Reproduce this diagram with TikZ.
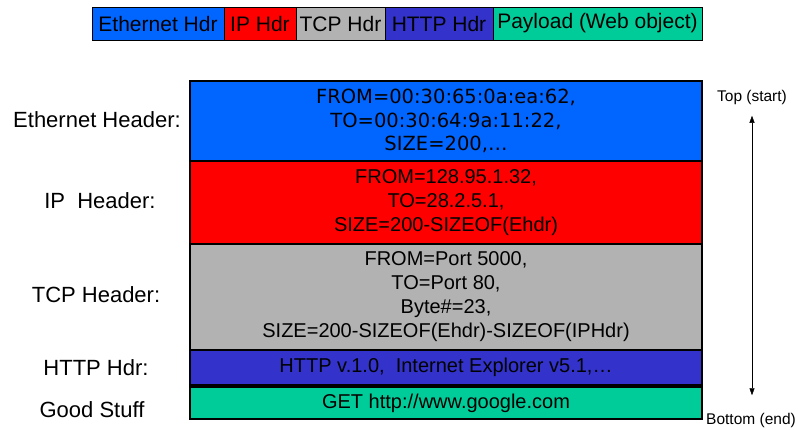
\documentclass[tikz,border=0pt]{standalone}
\usepackage{fontspec}
\setmainfont{Liberation Sans}
\newfontfamily\dejavu{DejaVu Sans}
\usetikzlibrary{positioning,arrows.meta}
\definecolor{ethblue}{RGB}{0,102,255}
\definecolor{ipred}{RGB}{255,0,0}
\definecolor{tcpgray}{RGB}{178,178,178}
\definecolor{httpblue}{RGB}{51,51,204}
\definecolor{loadgreen}{RGB}{0,204,153}

\begin{document}
\begin{tikzpicture}[x=1pt,y=-1pt,
  seg/.style={draw, line width=0.8pt, minimum height=33, inner sep=0pt, outer sep=0pt, font=\fontsize{21}{24}\selectfont},
  layer/.style={draw, line width=1.3pt, minimum width=512, inner sep=0pt, outer sep=0pt, align=center, font=\fontsize{20}{24}\selectfont},
  lbl/.style={font=\fontsize{22}{26}\selectfont},
  side/.style={font=\fontsize{15.5}{18}\selectfont}]
\useasboundingbox (0,0) rectangle (798,429);
% the packet as one bar
\node[seg, fill=ethblue, minimum width=132, anchor=west] (ethhdr) at (92,23.5) {Ethernet Hdr};
\node[seg, fill=ipred, minimum width=72, right=0pt of ethhdr] (iphdr) {IP Hdr};
\node[seg, fill=tcpgray, minimum width=89, right=0pt of iphdr] (tcphdr) {TCP Hdr};
\node[seg, fill=httpblue, minimum width=108, right=0pt of tcphdr] (httphdr) {HTTP Hdr};
\node[seg, fill=loadgreen, minimum width=209, right=0pt of httphdr] (payload) {Payload (Web object)};
% the layers, top to bottom
\node[layer, fill=ethblue, minimum height=80, anchor=north west, font=\dejavu\fontsize{19.5}{23.5}\selectfont] (ethlayer) at (190,81)
  {FROM=00:30:65:0a:ea:62,\\ TO=00:30:64:9a:11:22,\\SIZE=200,\dots};
\node[layer, fill=ipred, minimum height=83, below=0pt of ethlayer] (iplayer)
  {FROM=128.95.1.32,\\TO=28.2.5.1,\\SIZE=200-SIZEOF(Ehdr)};
\node[layer, fill=tcpgray, minimum height=106, below=0pt of iplayer] (tcplayer)
  {FROM=Port 5000,\\TO=Port 80,\\Byte\#=23,\\SIZE=200-SIZEOF(Ehdr)-SIZEOF(IPHdr)};
\node[layer, fill=httpblue, minimum height=35, below=0pt of tcplayer] (httplayer)
  {HTTP v.1.0,\ \ Internet Explorer v5.1,\dots};
\node[layer, fill=loadgreen, line width=2.5pt, minimum height=32, below=2pt of httplayer] (goodlayer)
  {GET http://www.google.com};
% names on the left
\node[lbl] (ethlbl) at (97,120) {Ethernet Header:};
\node[lbl] (iplbl) at (100,201) {IP\ \ Header:};
\node[lbl] (tcplbl) at (96,295) {TCP Header:};
\node[lbl] (httplbl) at (96,368) {HTTP Hdr:};
\node[lbl] (goodlbl) at (92,410) {Good Stuff};
% order of reading
\node[side] (toplbl) at (752,97) {Top (start)};
\node[side] (botlbl) at (751,420) {Bottom (end)};
\draw[{Triangle[length=7pt,width=5pt]}-{Triangle[length=7pt,width=5pt]}, shorten <=8pt, shorten >=14pt]
  (toplbl.south) -- (toplbl.south |- botlbl.north);
\end{tikzpicture}
\end{document}
